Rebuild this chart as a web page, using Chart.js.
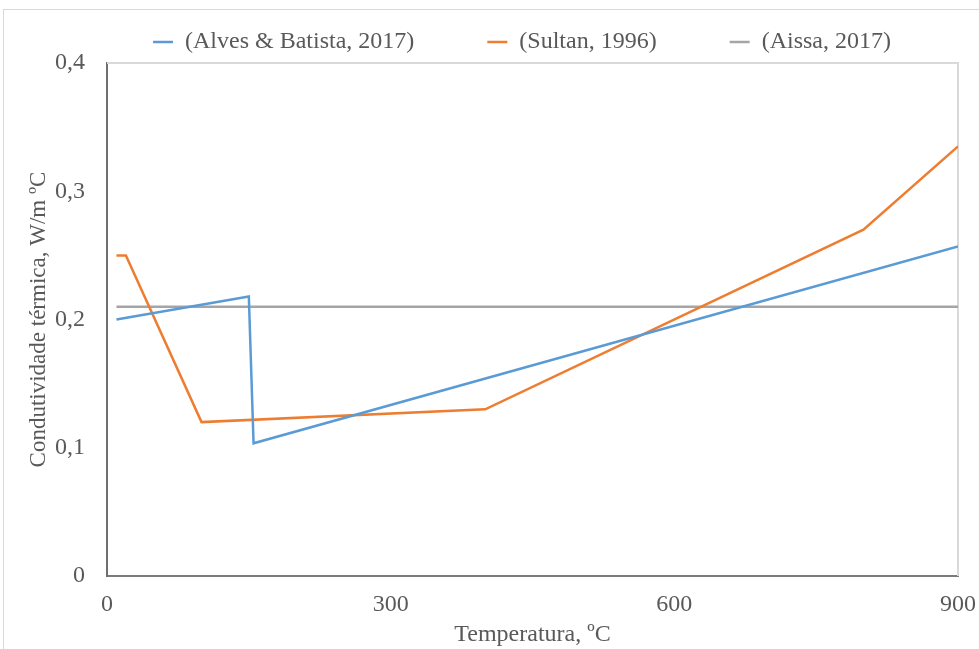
<!DOCTYPE html>
<html>
<head>
<meta charset="utf-8">
<script src="https://cdn.jsdelivr.net/npm/chart.js@4/dist/chart.umd.min.js"></script>
<style>
  body { margin: 0; background: #ffffff; }
  #wrap { width: 979px; height: 649px; }
</style>
</head>
<body>
<div id="wrap"><canvas id="condChart"></canvas></div>
<script>
// valores
const seriesNames = ["(Alves & Batista, 2017)", "(Sultan, 1996)", "(Aissa, 2017)"];
const alvesTemp = [10, 150, 155, 900];
const alvesK = [0.2, 0.218, 0.1035, 0.257];
const sultanTemp = [10, 20, 100, 400, 800, 900];
const sultanK = [0.25, 0.25, 0.12, 0.13, 0.27, 0.335];
const aissaTemp = [10, 900];
const aissaK = [0.21, 0.21];
const xTicks = [0, 300, 600, 900];
const yTicks = [0, 0.1, 0.2, 0.3, 0.4];

const txtColor = "#595959";
const serif = "'Liberation Serif', 'Times New Roman', serif";
const legendGap = 73;

function toPoints(xs, ys) {
    return xs.map((x, i) => ({ x: x, y: ys[i] }));
}

function lineSet(label, xs, ys, color) {
    return {
        label: label,
        data: toPoints(xs, ys),
        borderColor: color,
        backgroundColor: color,
        borderWidth: 2.5,
        pointRadius: 0,
        showLine: true,
        tension: 0
    };
}

// moldura do gráfico, posição da legenda e bordas da área de plotagem
const framePlugin = {
    id: "frame",
    beforeInit(chart) {
        const fit = chart.legend.fit;
        chart.legend.fit = function () {
            fit.call(this);
            this.height = 63;
        };
    },
    afterLayout(chart) {
        const lg = chart.legend;
        lg.left += 43;
        lg.right += 43;
        lg.top = 42 - 12 - legendGap;
    },
    beforeDraw(chart) {
        const ctx = chart.ctx;
        ctx.save();
        ctx.strokeStyle = "#d9d9d9";
        ctx.lineWidth = 1;
        ctx.strokeRect(3.5, 9.5, 1000, 1000);
        ctx.restore();
    },
    beforeDatasetsDraw(chart) {
        const a = chart.chartArea;
        const ctx = chart.ctx;
        ctx.save();
        ctx.strokeStyle = "#d9d9d9";
        ctx.lineWidth = 2;
        ctx.beginPath();
        ctx.moveTo(a.left, a.top);
        ctx.lineTo(a.right, a.top);
        ctx.lineTo(a.right, a.bottom);
        ctx.stroke();
        ctx.restore();
    }
};

const ctx = document.getElementById("condChart");
new Chart(ctx, {
    type: "scatter",
    data: {
        datasets: [
            lineSet(seriesNames[0], alvesTemp, alvesK, "#5b9bd5"),
            lineSet(seriesNames[1], sultanTemp, sultanK, "#ed7d31"),
            lineSet(seriesNames[2], aissaTemp, aissaK, "#a5a5a5")
        ]
    },
    options: {
        responsive: true,
        maintainAspectRatio: false,
        animation: false,
        layout: { padding: { left: 0, right: 21, top: 0, bottom: 0 } },
        plugins: {
            legend: {
                position: "top",
                labels: {
                    color: txtColor,
                    font: { family: serif, size: 24 },
                    usePointStyle: true,
                    pointStyle: "line",
                    pointStyleWidth: 20,
                    padding: legendGap
                }
            },
            tooltip: { enabled: false }
        },
        scales: {
            x: {
                type: "linear",
                min: 0,
                max: 900,
                afterFit: (s) => { s.height = 73; s.paddingRight = 0; },
                afterBuildTicks: (s) => { s.ticks = xTicks.map(v => ({ value: v })); },
                ticks: {
                    color: txtColor,
                    font: { family: serif, size: 24 },
                    padding: 14,
                    maxRotation: 0
                },
                grid: { display: false, drawTicks: false, tickLength: 0 },
                border: { display: true, color: "#7a7a7a", width: 2 },
                title: {
                    display: true,
                    text: "Temperatura, ºC",
                    color: txtColor,
                    font: { family: serif, size: 24 },
                    padding: { top: 0, bottom: 0 }
                }
            },
            y: {
                min: 0,
                max: 0.4,
                afterFit: (s) => { s.width = 107; },
                afterBuildTicks: (s) => { s.ticks = yTicks.map(v => ({ value: v })); },
                ticks: {
                    color: txtColor,
                    font: { family: serif, size: 24 },
                    padding: 22,
                    callback: (v) => v === 0 ? "0" : v.toFixed(1).replace(".", ",")
                },
                grid: { display: false, drawTicks: false, tickLength: 0 },
                border: { display: true, color: "#6f6f6f", width: 2 },
                title: {
                    display: true,
                    text: "Condutividade térmica, W/m ºC",
                    color: txtColor,
                    font: { family: serif, size: 23 },
                    padding: { top: 25, bottom: 0 }
                }
            }
        }
    },
    plugins: [framePlugin]
});
</script>
</body>
</html>
